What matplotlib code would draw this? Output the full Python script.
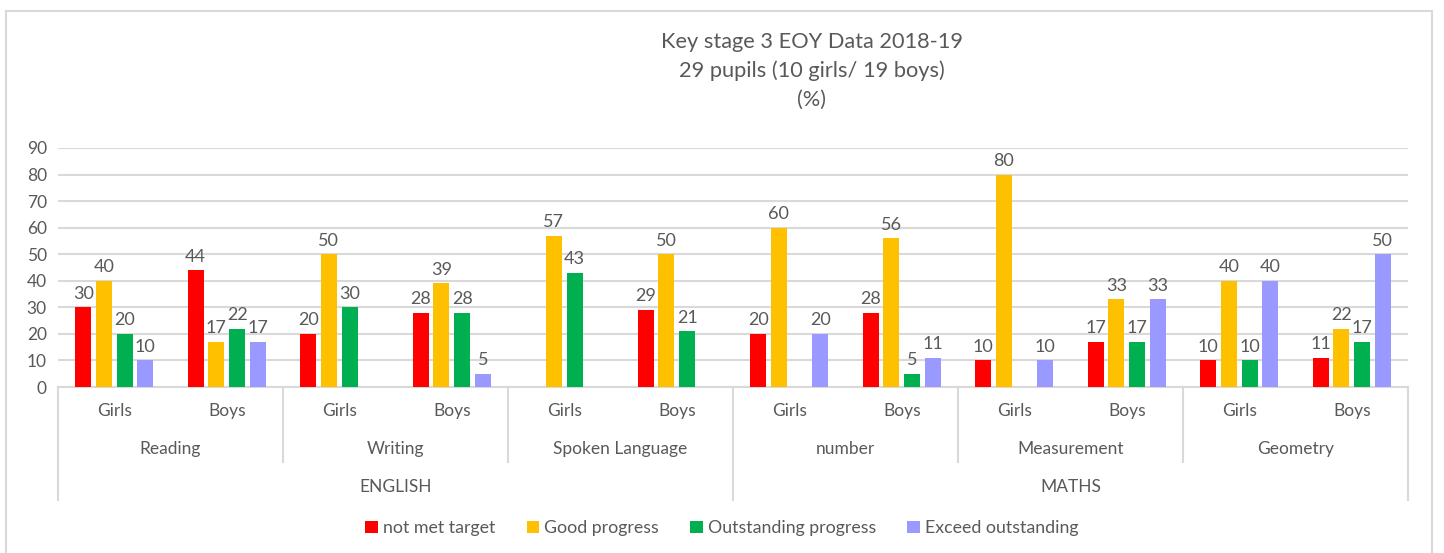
import matplotlib
matplotlib.use("Agg")
import matplotlib.pyplot as plt
import matplotlib.transforms as mtransforms
from matplotlib.patches import Rectangle
import numpy as np

plt.rcParams['font.family'] = ['Lato', 'DejaVu Sans']

subjects = ["Reading", "Writing", "Spoken Language", "number", "Measurement", "Geometry"]
groups = ["ENGLISH", "MATHS"]
genders = ["Girls", "Boys"]
series_names = ["not met target", "Good progress", "Outstanding progress", "Exceed outstanding"]
colors = ["#FF0000", "#FFC000", "#00B050", "#9999FF"]

# each list: Reading G, Reading B, Writing G, Writing B, Spoken G, Spoken B,
# number G, number B, Measurement G, Measurement B, Geometry G, Geometry B
not_met = [30, 44, 20, 28, 0, 29, 20, 28, 10, 17, 10, 11]
good = [40, 17, 50, 39, 57, 50, 60, 56, 80, 33, 40, 22]
outstanding = [20, 22, 30, 28, 43, 21, 0, 5, 0, 17, 10, 17]
exceed = [10, 17, 0, 5, 0, 0, 20, 11, 10, 33, 40, 50]
series = [not_met, good, outstanding, exceed]

W, H = 1444, 553
fig = plt.figure(figsize=(W / 100, H / 100), dpi=100)
ax = fig.add_axes([58 / W, 1 - 387 / H, (1408 - 58) / W, (387 - 148) / H])

n = len(not_met)
x = np.arange(n)
pitch = 0.184
width = 0.142
grey = "#595959"
for i, (name, vals, c) in enumerate(zip(series_names, series, colors)):
    pos = x + (i - 1.5) * pitch
    v = np.array(vals, dtype=float)
    bars = ax.bar(pos, v, width=width, color=c, label=name, zorder=3)
    for b, val in zip(bars, vals):
        if val:
            ax.annotate(str(val), (b.get_x() + b.get_width() / 2, val),
                        xytext=(0, 4), textcoords="offset points",
                        ha="center", va="bottom", fontsize=13, color=grey)

ax.set_xlim(-0.5, n - 0.5)
ax.set_ylim(0, 90)
ax.set_yticks(range(0, 91, 10))
ax.tick_params(axis="y", length=0, labelsize=12.5, labelcolor=grey, pad=8)
ax.tick_params(axis="x", length=0, labelbottom=False)
ax.grid(axis="y", color="#D9D9D9", linewidth=1.5, zorder=0)
for s in ["left", "right", "top"]:
    ax.spines[s].set_visible(False)
ax.spines["bottom"].set_color("#D9D9D9")
ax.spines["bottom"].set_linewidth(1.5)

trans = mtransforms.blended_transform_factory(ax.transData, ax.transAxes)
axh = 387 - 148
def ay(py):
    return (387 - py) / axh

# gender labels
for i in range(n):
    ax.text(x[i], ay(411), genders[i % 2], transform=trans, ha="center", va="center",
            fontsize=12.5, color=grey)
# subject labels + separators
for j, s in enumerate(subjects):
    ax.text(2 * j + 0.5, ay(449), s, transform=trans, ha="center", va="center",
            fontsize=12.5, color=grey)
for k in range(len(subjects) + 1):
    xs = 2 * k - 0.5
    bottom = ay(500) if k % 3 == 0 else ay(462)
    ax.plot([xs, xs], [0, bottom], transform=trans, color="#D9D9D9", lw=1.5,
            clip_on=False)
for g, name in enumerate(groups):
    ax.text(6 * g + 2.5, ay(487), name, transform=trans, ha="center", va="center",
            fontsize=12.5, color=grey)

fig.text(812 / W, 1 - 71 / H, "Key stage 3 EOY Data 2018-19\n29 pupils (10 girls/ 19 boys)\n(%)",
         ha="center", va="center", fontsize=15.7, color=grey, linespacing=1.55)

leg = fig.legend(loc="center", bbox_to_anchor=(722 / W, 1 - 528 / H), ncol=4,
                 frameon=False, fontsize=12.8, handlelength=0.7, handleheight=0.7,
                 handletextpad=0.3, columnspacing=1.75)
for t in leg.get_texts():
    t.set_color(grey)

fig.patches.append(Rectangle((6 / W, -0.1), (1432 - 6) / W, 1.1 - 11 / H,
                             transform=fig.transFigure, fill=False,
                             edgecolor="#D9D9D9", linewidth=1.5))

fig.savefig("out.png", dpi=100)
